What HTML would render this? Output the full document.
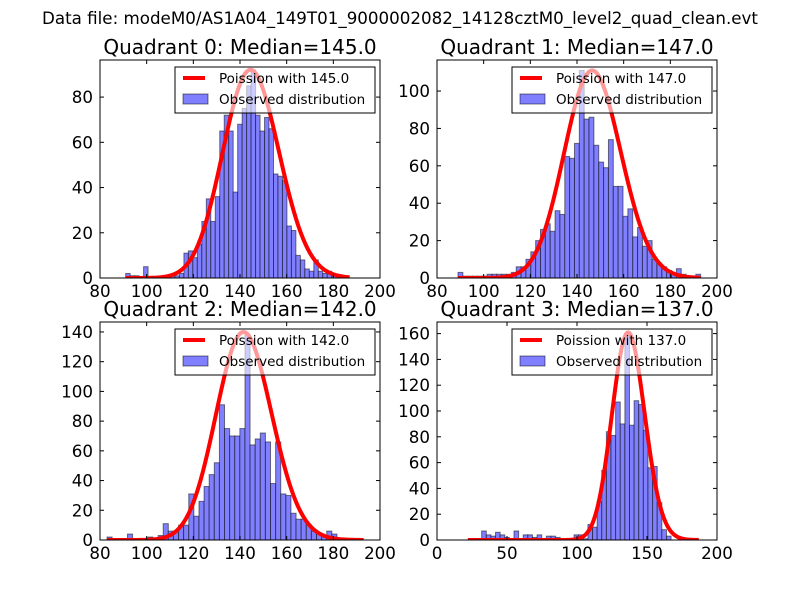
<!DOCTYPE html>
<html><head><meta charset="utf-8"><style>
html,body{margin:0;padding:0;background:#fff;}
svg{display:block;font-family:"DejaVu Sans","Liberation Sans",sans-serif;}
</style></head><body>
<svg id="fig" width="800" height="600" xmlns="http://www.w3.org/2000/svg">
<rect width="800" height="600" fill="#fff"/>
<text x="400" y="24" text-anchor="middle" font-size="16.7" fill="#000">Data file: modeM0/AS1A04_149T01_9000002082_14128cztM0_level2_quad_clean.evt</text>
</svg>
<script>
// ---- data ----
const quadrantNames = ["Quadrant 0: Median=145.0","Quadrant 1: Median=147.0","Quadrant 2: Median=142.0","Quadrant 3: Median=137.0"];
const legendLabels = ["Poission with 145.0","Poission with 147.0","Poission with 142.0","Poission with 137.0"];
const medians = [145, 147, 142, 137];
const curveScale = [2780, 3374, 4182, 4722];
const binStart = [91, 89, 83, 22];
const binWidth = [1.92, 2.08, 2.19, 3.3];
const counts0 = [2,1,1,0,5,0,0,0,1,1,1,1,2,11,12,9,15,25,35,25,36,65,72,65,38,68,75,85,92,72,65,71,66,46,45,43,23,21,10,8,4,3,8,3,2,3,1,0,0,0];
const counts1 = [3,1,1,1,1,1,2,2,2,2,2,3,6,6,10,14,20,26,29,25,36,34,65,64,72,111,85,86,71,62,59,74,49,49,33,37,22,27,17,20,10,8,6,4,2,5,2,1,1,2];
const counts2 = [2,0,0,0,4,0,0,1,2,1,3,11,6,6,10,10,31,16,26,36,44,52,91,75,70,70,75,138,64,68,72,66,38,66,31,30,18,14,14,10,6,4,3,6,4,1,1,0,1,0];
const counts3 = [0,0,1,7,4,3,6,4,2,1,7,1,4,4,2,4,0,3,3,2,0,1,1,4,4,1,12,10,30,54,84,81,107,90,160,89,108,105,85,56,57,29,8,3,0,0,0,0,0,0];
const xMin = [80, 80, 80, 0];
const xMax = [200, 200, 200, 200];
const yMax = [96.4, 116.6, 146.7, 169];
const xTicks0 = [80,100,120,140,160,180,200];
const xTicks3 = [0,50,100,150,200];
const yTicks0 = [0,20,40,60,80];
const yTicks1 = [0,20,40,60,80,100];
const yTicks2 = [0,20,40,60,80,100,120,140];
const yTicks3 = [0,20,40,60,80,100,120,140,160];
// ---- layout ----
const allCounts = [counts0, counts1, counts2, counts3];
const allXTicks = [xTicks0, xTicks0, xTicks0, xTicks3];
const allYTicks = [yTicks0, yTicks1, yTicks2, yTicks3];
const rects = [[100,60,380,278],[437,60,717,278],[100,322,380,540],[437,322,717,540]];
const NS = "http://www.w3.org/2000/svg";
const fig = document.getElementById('fig');
function mk(tag, attrs, parent){ const e=document.createElementNS(NS,tag); for(const k in attrs) e.setAttribute(k,attrs[k]); (parent||fig).appendChild(e); return e; }
function logFact(k){ let s=0; for(let i=2;i<=k;i++) s+=Math.log(i); return s; }
function pois(k, mu){ return Math.exp(k*Math.log(mu)-mu-logFact(k)); }

for(let q=0;q<4;q++){
  const [L,T,R,B]=rects[q];
  const sx=v=>L+(v-xMin[q])/(xMax[q]-xMin[q])*(R-L);
  const sy=v=>B-v/yMax[q]*(B-T);
  const g=mk('g',{});
  
  
  const clipId='clip'+q;
  const cp=mk('clipPath',{id:clipId},g); mk('rect',{x:L,y:T,width:R-L,height:B-T},cp);
  const plot=mk('g',{'clip-path':'url(#'+clipId+')'},g);
  const c=allCounts[q];
  for(let i=0;i<c.length;i++){
    if(c[i]<=0) continue;
    const x0=sx(binStart[q]+i*binWidth[q]), x1=sx(binStart[q]+(i+1)*binWidth[q]);
    const r=mk('rect',{x:x0,y:sy(c[i]),width:x1-x0,height:sy(0)-sy(c[i]),fill:'#7f7fff',stroke:'rgba(0,0,0,0.5)','stroke-width':1},plot);
    
    
  }
  const lo=Math.round(binStart[q]), hi=Math.round(binStart[q]+c.length*binWidth[q]);
  let pts=[];
  for(let k=lo;k<=hi;k++) pts.push(sx(k).toFixed(2)+','+sy(curveScale[q]*pois(k,medians[q])).toFixed(2));
  const pl=mk('polyline',{points:pts.join(' '),fill:'none',stroke:'#ff0000','stroke-width':4,'stroke-linejoin':'round'},plot);
  
  
  const fr=mk('rect',{x:L,y:T,width:R-L,height:B-T,fill:'none',stroke:'#000','stroke-width':1},g);
  
  
  allXTicks[q].forEach(v=>{
    const x=sx(v);
    mk('line',{x1:x,y1:B,x2:x,y2:B-4,stroke:'#000'},g);
    mk('line',{x1:x,y1:T,x2:x,y2:T+4,stroke:'#000'},g);
    const t=mk('text',{x:x,y:B+19,'text-anchor':'middle','font-size':16.7},g);
    t.textContent=v;
    
    
  });
  allYTicks[q].forEach(v=>{
    const y=sy(v);
    mk('line',{x1:L,y1:y,x2:L+4,y2:y,stroke:'#000'},g);
    mk('line',{x1:R,y1:y,x2:R-4,y2:y,stroke:'#000'},g);
    const t=mk('text',{x:L-7,y:y+6,'text-anchor':'end','font-size':16.7},g);
    t.textContent=v;
    
    
  });
  const tt=mk('text',{x:(L+R)/2,y:T-6,'text-anchor':'middle','font-size':20},g);
  tt.textContent=quadrantNames[q];
  
  
  const lx=R-205, ly=T+7;
  const lg=mk('g',{},g);
  
  
  mk('rect',{x:lx,y:ly,width:200,height:46,fill:'rgba(255,255,255,0.6)',stroke:'#000','stroke-width':1},lg);
  mk('line',{x1:lx+8,y1:ly+11,x2:lx+30,y2:ly+11,stroke:'#ff0000','stroke-width':4},lg);
  const t1=mk('text',{x:lx+44,y:ly+16,'font-size':13.5},lg); t1.textContent=legendLabels[q];
  
  
  mk('rect',{x:lx+8,y:ly+27,width:25,height:10,fill:'#7f7fff',stroke:'rgba(0,0,0,0.5)'},lg);
  const t2=mk('text',{x:lx+44,y:ly+37,'font-size':13.5},lg); t2.textContent='Observed distribution';
  
  
}
</script>
</body></html>
